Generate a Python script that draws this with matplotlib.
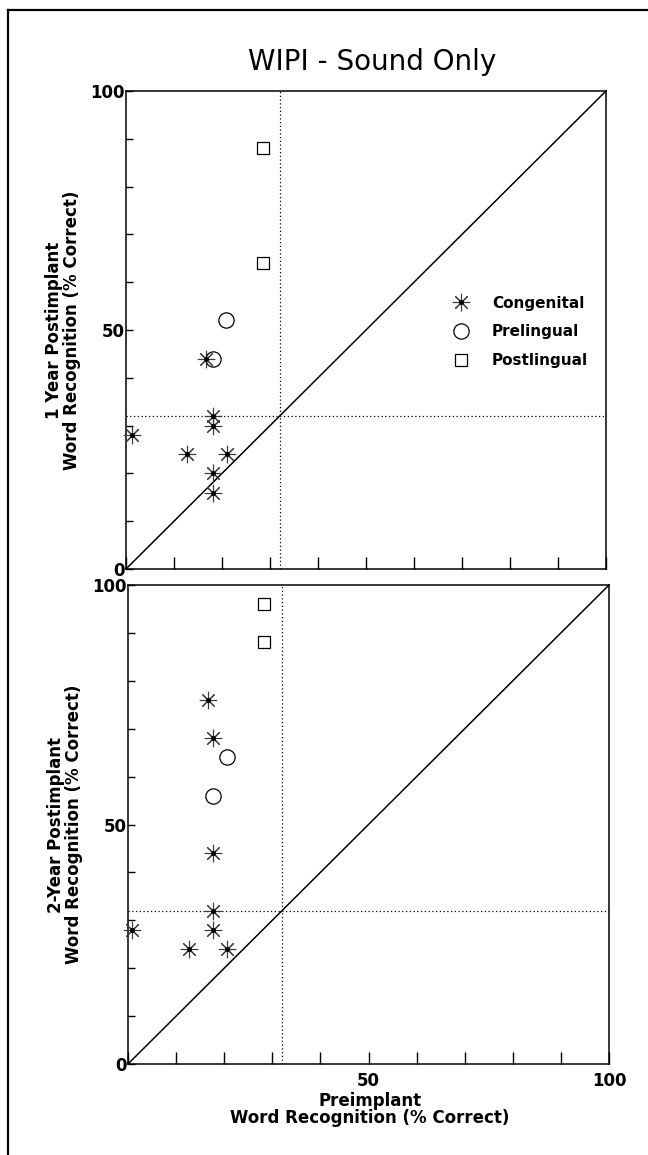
import matplotlib
matplotlib.use("Agg")
import matplotlib.pyplot as plt
from matplotlib.lines import Line2D

# ---------------- data ----------------
title = "WIPI - Sound Only"
y_labels = ["1 Year Postimplant\nWord Recognition (% Correct)",
            "2-Year Postimplant\nWord Recognition (% Correct)"]
x_label = "Preimplant\nWord Recognition (% Correct)"
groups = ["Congenital", "Prelingual", "Postlingual"]

# 1-year panel
cong_pre_1 = [1.2, 12.8, 16.7, 18.1, 18.1, 21.0, 18.1, 18.1]
cong_post_1 = [28, 24, 44, 32, 30, 24, 20, 16]
prel_pre_1 = [20.8, 18.1]
prel_post_1 = [52, 44]
postl_pre_1 = [28.6, 28.6]
postl_post_1 = [88, 64]

# 2-year panel
cong_pre_2 = [16.7, 17.7, 17.7, 17.7, 17.7, 0.8, 12.7, 20.6]
cong_post_2 = [76, 68, 44, 32, 28, 28, 24, 24]
prel_pre_2 = [20.6, 17.7]
prel_post_2 = [64, 56]
postl_pre_2 = [28.3, 28.3]
postl_post_2 = [96, 88]

criterion = 32
tick_values = [0, 10, 20, 30, 40, 50, 60, 70, 80, 90, 100]
labelled_ticks = [0, 50, 100]

panels = [
    (cong_pre_1, cong_post_1, prel_pre_1, prel_post_1, postl_pre_1, postl_post_1),
    (cong_pre_2, cong_post_2, prel_pre_2, prel_post_2, postl_pre_2, postl_post_2),
]

# ---------------- figure ----------------
W, H = 648, 1155
fig = plt.figure(figsize=(W / 100, H / 100), dpi=100)
fig.patch.set_facecolor("white")

rects = [
    (126 / W, 1 - 569 / H, 480 / W, 478 / H),
    (128 / W, 1 - 1064 / H, 481 / W, 479 / H),
]

star = (8, 2, 0)
star_kw = dict(marker=star, ms=12.5, mew=0.8, color="#3a3a3a", linestyle="none")
dot_kw = dict(marker="o", ms=3.6, color="black", mew=0, linestyle="none")
circ_kw = dict(marker="o", ms=11, mfc="none", mec="black", mew=0.9, linestyle="none")
sq_kw = dict(marker="s", ms=9, mfc="none", mec="black", mew=0.9, linestyle="none")

for i, (rect, data) in enumerate(zip(rects, panels)):
    cx, cy, px, py, qx, qy = data
    ax = fig.add_axes(rect)
    ax.set_xlim(0, 100)
    ax.set_ylim(0, 100)

    # reference lines
    ax.plot([0, 100], [0, 100], color="black", lw=1.1, zorder=1)
    ax.axvline(criterion, color="black", lw=0.9, ls=(0, (1, 2)), zorder=1)
    ax.axhline(criterion, color="black", lw=0.9, ls=(0, (1, 2)), zorder=1)

    ax.plot(cx, cy, clip_on=False, zorder=3, **star_kw)
    ax.plot(cx, cy, clip_on=False, zorder=4, **dot_kw)
    ax.plot(px, py, clip_on=False, zorder=3, **circ_kw)
    ax.plot(qx, qy, clip_on=False, zorder=3, **sq_kw)

    for s in ax.spines.values():
        s.set_linewidth(1.1)

    ax.set_xticks(tick_values)
    ax.set_yticks(tick_values)
    ylabs = [str(t) if t in labelled_ticks else "" for t in tick_values]
    ax.set_yticklabels(ylabs, fontsize=12, fontweight="bold")
    if i == 1:
        xlabs = [str(t) if t in (50, 100) else "" for t in tick_values]
    else:
        xlabs = ["" for t in tick_values]
    ax.set_xticklabels(xlabs, fontsize=12, fontweight="bold")
    ax.tick_params(axis="x", direction="in", length=9, width=1.0, pad=6)
    ax.tick_params(axis="y", direction="in", length=5, width=1.0, pad=1)

    ax.text(-0.131, 0.5, y_labels[i], transform=ax.transAxes, rotation=90,
            ha="center", va="center", fontsize=12, fontweight="bold",
            linespacing=0.95, multialignment="center")

    if i == 0:
        h_cong = (Line2D([], [], **star_kw), Line2D([], [], **dot_kw))
        h_prel = Line2D([], [], **circ_kw)
        h_post = Line2D([], [], **sq_kw)
        ax.legend([h_cong, h_prel, h_post], groups, loc="center left",
                  bbox_to_anchor=(0.683, 0.496), frameon=False,
                  prop=dict(size=11, weight="bold"), handlelength=1.0,
                  handletextpad=1.5, labelspacing=0.9, borderpad=0,
                  borderaxespad=0)
    else:
        ax.text(0.503, -0.095, x_label, transform=ax.transAxes,
                ha="center", va="center", fontsize=12, fontweight="bold",
                linespacing=0.95, multialignment="center")

fig.text(372 / W, 1 - 62 / H, title, ha="center", va="center", fontsize=20)

# outer frame (left and top edges)
fig.add_artist(Line2D([7.5 / W, 7.5 / W], [0, 1 - 10 / H], color="black", lw=1.6,
                      transform=fig.transFigure))
fig.add_artist(Line2D([7.5 / W, 1], [1 - 10 / H, 1 - 10 / H], color="black", lw=1.6,
                      transform=fig.transFigure))

fig.savefig("out.png", dpi=100)
